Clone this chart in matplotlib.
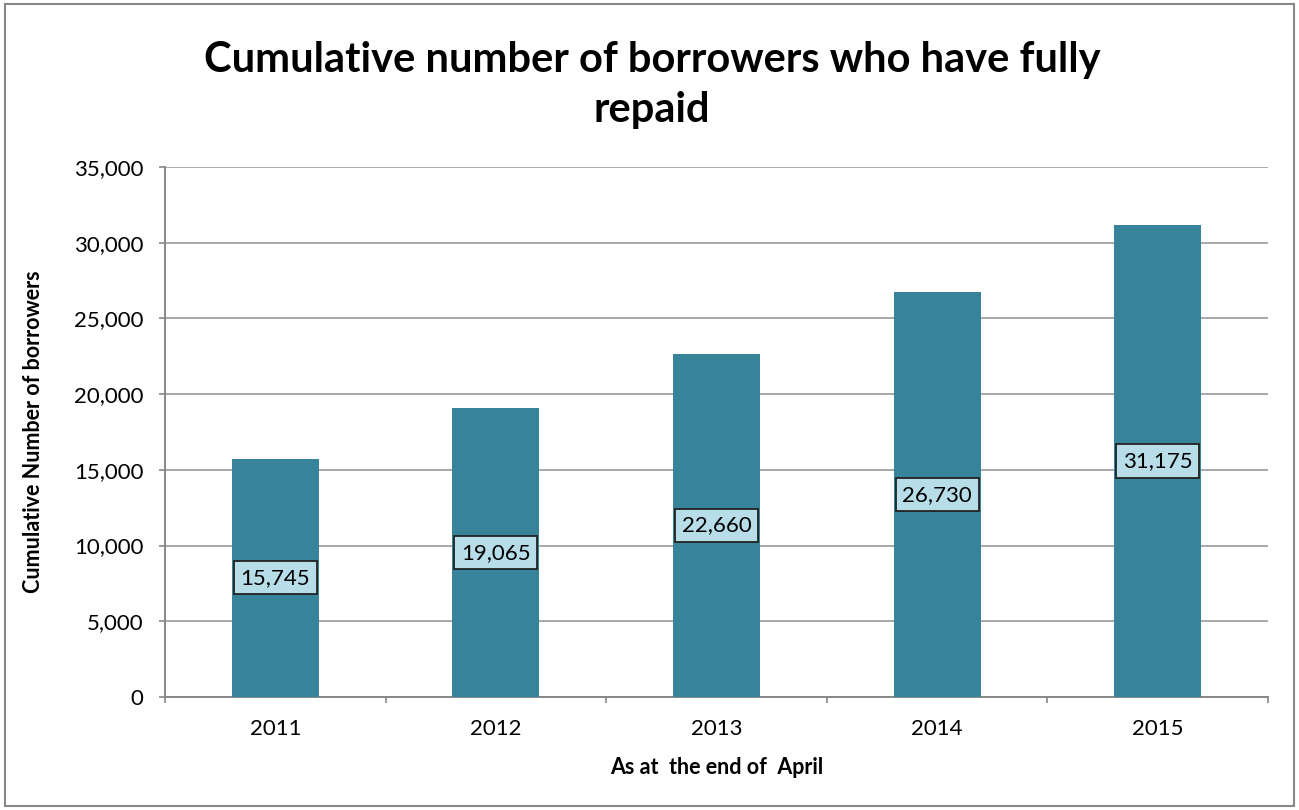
import matplotlib.pyplot as plt
from matplotlib.patches import Rectangle
from matplotlib.ticker import FuncFormatter, MultipleLocator
import numpy as np

years = ["2011", "2012", "2013", "2014", "2015"]
borrowers = [15745, 19065, 22660, 26730, 31175]

plt.rcParams['font.family'] = ['Lato', 'DejaVu Sans']

fig = plt.figure(figsize=(12.99, 8.10), dpi=100)
ax = fig.add_axes([165/1299, 1 - 697/810, (1268-165)/1299, (697-167)/810])

x = np.arange(len(years))
bars = ax.bar(x, borrowers, width=0.395, color='#37839A', zorder=3)

# value boxes sit halfway up each bar
for xi, v in zip(x, borrowers):
    ax.text(xi, v / 2, f"{v:,}", ha='center', va='center', fontsize=16, zorder=4,
            bbox=dict(boxstyle='square,pad=0.3', fc='#B7DDE8', ec='#222222', lw=1.3))

ax.set_xlim(-0.5, len(years) - 0.5)
ax.set_ylim(0, 35000)
ax.yaxis.set_major_locator(MultipleLocator(5000))
ax.yaxis.set_major_formatter(FuncFormatter(lambda v, p: f"{int(v):,}"))
ax.grid(axis='y', color='#999999', lw=1.2, zorder=0)

# category ticks on the boundaries, labels centred
ax.set_xticks(np.arange(-0.5, len(years)), minor=False)
ax.set_xticklabels([])
ax.set_xticks(x, minor=True)
ax.set_xticklabels(years, minor=True)
ax.tick_params(axis='x', which='minor', length=0, labelsize=16, pad=16)
ax.tick_params(axis='x', which='major', length=4.5, color='#888888', width=1.2)
ax.tick_params(axis='y', length=4.5, color='#888888', width=1.2, labelsize=16, pad=11)

for s in ['top', 'right']:
    ax.spines[s].set_visible(False)
for s in ['left', 'bottom']:
    ax.spines[s].set_color('#888888')
    ax.spines[s].set_linewidth(1.4)

ax.set_xlabel("As at  the end of  April", fontsize=15.5, fontweight='bold', va='center')
ax.xaxis.set_label_coords(0.5, (697 - 767) / 530)
ax.set_ylabel("Cumulative Number of borrowers", fontsize=15.5, fontweight='bold', va='center')
ax.yaxis.set_label_coords((33 - 165) / 1103, 0.5)

fig.text(652/1299, 1 - 85/810, "Cumulative number of borrowers who have fully\nrepaid",
         ha='center', va='center', fontsize=30, fontweight='bold', linespacing=1.4)

fig.patches.append(Rectangle((5/1299, 4/810), 1289/1299, 802/810, transform=fig.transFigure,
                             fill=False, ec='#888888', lw=1.5))

fig.savefig("out.png", dpi=100)
